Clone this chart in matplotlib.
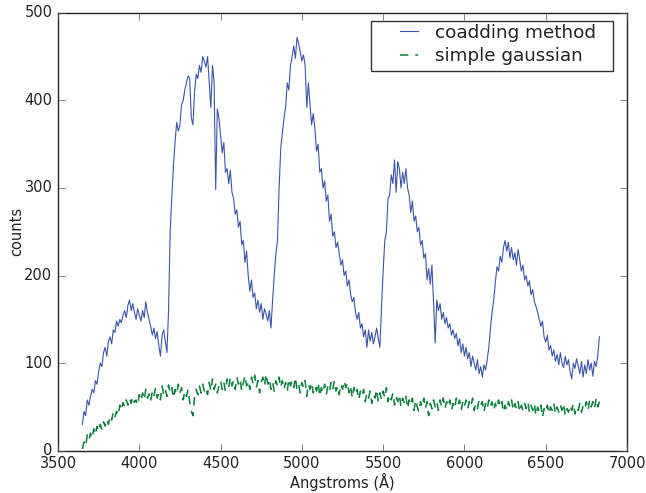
import numpy as np
import matplotlib
matplotlib.use("Agg")
import matplotlib.pyplot as plt
from matplotlib.patches import Rectangle

# wavelength grid (Angstroms), 10 A steps
wave_start = 3650
wave_stop = 6840
wave_step = 10

coadd_counts = [
    30, 45, 40, 58, 52, 62, 70, 66, 80, 76,
    90, 100, 96, 112, 118, 108, 125, 130, 122, 138,
    135, 148, 142, 150, 146, 155, 160, 152, 166, 172,
    160, 168, 158, 150, 162, 155, 148, 160, 152, 170,
    158, 150, 142, 132, 140, 128, 136, 120, 108, 132,
    138, 125, 112, 160, 250, 290, 325, 352, 375, 365,
    372, 395, 400, 412, 420, 428, 425, 380, 372, 410,
    430, 425, 440, 432, 450, 445, 438, 450, 420, 392,
    440, 420, 298, 390, 380, 360, 340, 352, 318, 322,
    305, 320, 295, 288, 270, 275, 255, 262, 235, 240,
    215, 228, 200, 182, 195, 175, 180, 162, 172, 158,
    168, 150, 162, 156, 148, 160, 140, 172, 200, 225,
    240, 300, 345, 362, 380, 392, 420, 412, 440, 450,
    462, 448, 472, 465, 455, 445, 452, 440, 392, 420,
    395, 372, 385, 368, 342, 350, 318, 322, 300, 308,
    285, 292, 262, 270, 245, 250, 232, 238, 225, 212,
    218, 200, 205, 188, 195, 178, 170, 175, 158, 150,
    158, 140, 145, 130, 138, 118, 138, 125, 135, 122,
    130, 140, 128, 118, 165, 205, 240, 250, 288, 292,
    315, 305, 332, 295, 330, 322, 300, 318, 305, 322,
    300, 292, 272, 285, 262, 268, 250, 255, 235, 240,
    220, 225, 195, 208, 190, 212, 170, 123, 172, 160,
    168, 150, 158, 145, 152, 140, 145, 132, 138, 128,
    134, 120, 128, 112, 122, 108, 118, 105, 112, 96,
    108, 100, 92, 104, 88, 96, 84, 98, 92, 104,
    118, 140, 158, 172, 192, 210, 205, 222, 215, 232,
    240, 228, 238, 220, 232, 218, 226, 212, 230, 218,
    205, 212, 195, 200, 188, 194, 178, 184, 170, 165,
    158, 150, 142, 148, 130, 124, 132, 115, 120, 108,
    115, 102, 110, 98, 112, 100, 95, 108, 98, 104,
    90, 82, 100, 94, 105, 96, 88, 102, 84, 98,
    88, 104, 92, 100, 85, 102, 96, 108, 130,
]

gauss_counts = [
    2, 10, 5, 18, 12, 20, 14, 25, 18, 28,
    22, 30, 24, 33, 28, 36, 30, 40, 35, 44,
    38, 45, 40, 52, 46, 55, 50, 58, 52, 60,
    54, 62, 55, 58, 52, 64, 57, 66, 58, 70,
    60, 65, 56, 68, 62, 72, 60, 66, 58, 74,
    64, 70, 62, 75, 66, 72, 60, 70, 64, 76,
    66, 72, 58, 68, 62, 70, 56, 45, 40, 62,
    70, 64, 74, 66, 76, 68, 72, 64, 78, 68,
    82, 70, 76, 66, 74, 80, 70, 78, 68, 82,
    72, 84, 74, 80, 70, 84, 76, 82, 68, 78,
    86, 74, 80, 70, 84, 76, 86, 72, 80, 66,
    78, 84, 74, 88, 76, 82, 70, 78, 68, 80,
    74, 84, 72, 80, 70, 78, 68, 82, 74, 80,
    72, 84, 70, 76, 66, 78, 72, 80, 62, 76,
    70, 78, 66, 74, 68, 78, 62, 72, 66, 76,
    64, 74, 68, 78, 70, 80, 68, 74, 64, 76,
    70, 80, 72, 78, 66, 74, 60, 72, 64, 70,
    58, 68, 62, 70, 56, 66, 60, 68, 54, 64,
    60, 70, 56, 66, 58, 68, 60, 72, 56, 64,
    58, 66, 52, 62, 56, 64, 50, 60, 54, 62,
    48, 58, 52, 60, 46, 58, 50, 44, 56, 50,
    60, 48, 56, 40, 54, 48, 58, 50, 56, 46,
    58, 50, 60, 48, 56, 50, 58, 46, 54, 48,
    60, 52, 58, 46, 56, 50, 58, 48, 56, 50,
    60, 46, 54, 48, 58, 52, 56, 44, 54, 48,
    58, 50, 56, 46, 54, 48, 58, 50, 56, 44,
    52, 46, 56, 50, 58, 46, 54, 48, 56, 44,
    52, 46, 54, 48, 56, 44, 52, 46, 54, 40,
    50, 44, 52, 38, 48, 44, 52, 42, 50, 46,
    54, 42, 50, 44, 52, 46, 54, 40, 48, 44,
    52, 46, 54, 42, 50, 46, 54, 44, 52, 48,
    56, 46, 58, 50, 56, 48, 60, 50, 56,
]

wave = np.arange(wave_start, wave_stop, wave_step)

plt.style.use("classic")
plt.rcParams["font.family"] = "DejaVu Sans"
plt.rcParams["lines.scale_dashes"] = False

W, H = 646, 493
fig = plt.figure(figsize=(W / 100, H / 100), dpi=100, facecolor="white")
ax = fig.add_axes([0.0898, 0.0858, 0.8808, 0.8882])
ax.set_facecolor("white")

ax.plot(wave, coadd_counts, color="#3a55a8", lw=0.8, label="coadding method")
ax.plot(wave, gauss_counts, color="#0a7f3c", lw=1.1, ls="--", dashes=(6, 5),
        label="simple gaussian")

ax.set_xlim(3500, 7000)
ax.set_ylim(0, 500)
ax.set_xticks(range(3500, 7001, 500))
ax.set_yticks(range(0, 501, 100))
ax.tick_params(labelsize=10.5, direction="in", length=5, color="#555555",
               labelcolor="#222222")
for sp in ax.spines.values():
    sp.set_color("#222222")
ax.set_xlabel("Angstroms (Å)", fontsize=10.5, color="#222222", labelpad=1)
ax.set_ylabel("counts", fontsize=10.5, color="#222222", labelpad=0)

# legend frame drawn separately (old-style wide horizontal padding)
box = Rectangle((371 / W, 1 - 71 / H), 242 / W, 50 / H, transform=fig.transFigure,
                facecolor="white", edgecolor="#333333", lw=1.0, zorder=5)
ax.add_patch(box)
box.set_clip_on(False)

leg = ax.legend(loc="upper left", bbox_to_anchor=(395 / W, 1 - 23.5 / H),
                bbox_transform=fig.transFigure, borderaxespad=0, borderpad=0,
                fontsize=13.2, frameon=False, labelspacing=0.3,
                handlelength=1.53, handletextpad=0.65)
leg.set_zorder(6)
for t in leg.get_texts():
    t.set_color("#222222")

fig.savefig("out.png", dpi=100, facecolor="white")
